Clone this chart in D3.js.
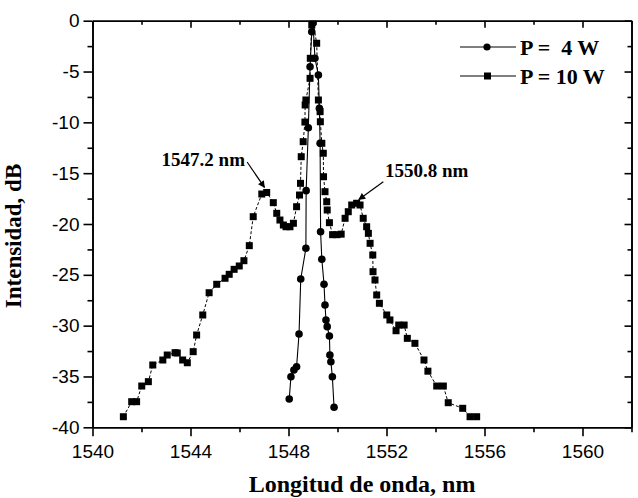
<!DOCTYPE html>
<html>
<head>
<meta charset="utf-8">
<script src="https://cdnjs.cloudflare.com/ajax/libs/d3/7.8.5/d3.min.js"></script>
<style>
  body { margin: 0; background: #fff; }
  .tick text { font-family: "Liberation Sans", Arial, sans-serif; font-size: 19px; fill: #000; }
  .domain, .tick line { stroke: #000; stroke-width: 1.6; }
</style>
</head>
<body>
<div id="chart"></div>
<script>
// wavelength (nm) / intensity (dB)
var wl10 = [1541.26, 1541.60, 1541.80, 1542.01, 1542.28, 1542.46, 1542.87, 1543.05, 1543.37, 1543.46,
            1543.68, 1543.87, 1544.11, 1544.25, 1544.50, 1544.76, 1545.07, 1545.41, 1545.58, 1545.78,
            1545.99, 1546.18, 1546.40, 1546.56, 1546.91, 1547.11, 1547.38, 1547.52, 1547.65, 1547.79,
            1547.90, 1548.06, 1548.20, 1548.33, 1548.45, 1548.49, 1548.52, 1548.60, 1548.67, 1548.68,
            1548.71, 1548.88, 1548.89, 1548.95, 1549.00, 1549.15, 1549.22, 1549.29, 1549.30, 1549.36,
            1549.42, 1549.43, 1549.49, 1549.56, 1549.58, 1549.67, 1549.80, 1549.98, 1550.15, 1550.31,
            1550.44, 1550.58, 1550.78, 1550.92, 1551.05, 1551.19, 1551.26, 1551.33, 1551.44, 1551.45,
            1551.53, 1551.60, 1551.71, 1552.01, 1552.14, 1552.39, 1552.50, 1552.72, 1552.85, 1553.16,
            1553.53, 1553.69, 1554.05, 1554.32, 1554.52, 1555.11, 1555.41, 1555.68];
var db10 = [-38.96, -37.48, -37.48, -35.94, -35.51, -33.87, -33.38, -32.89, -32.66, -32.69,
            -33.38, -33.65, -32.56, -30.92, -28.95, -26.76, -25.93, -25.34, -24.95, -24.46,
            -24.13, -23.61, -22.13, -19.28, -17.05, -16.90, -17.90, -18.95, -19.61, -20.10,
            -20.27, -20.27, -19.93, -18.30, -17.15, -16.00, -13.38, -11.90, -9.97, -8.29,
            -7.80, -5.67, -3.70, -0.42, -0.10, -2.22, -7.80, -8.95, -9.94, -12.06,
            -13.04, -15.35, -16.82, -17.81, -18.62, -19.87, -21.05, -21.05, -21.0, -19.44,
            -18.79, -18.13, -17.96, -18.13, -19.44, -20.27, -20.92, -21.90, -23.05, -24.69,
            -25.51, -26.98, -27.80, -28.95, -29.44, -30.50, -29.94, -29.94, -31.25, -31.74,
            -33.38, -34.48, -35.94, -35.94, -37.58, -38.13, -38.96, -38.96];

var wl4 = [1548.03, 1548.10, 1548.22, 1548.33, 1548.43, 1548.50, 1548.71, 1548.72, 1548.81, 1548.88,
           1548.95, 1549.00, 1549.08, 1549.22, 1549.26, 1549.29, 1549.31, 1549.36, 1549.45, 1549.49,
           1549.53, 1549.58, 1549.67, 1549.69, 1549.73, 1549.79, 1549.86];
var db4 = [-37.22, -35.02, -34.36, -34.04, -30.82, -25.41, -22.39, -16.72, -10.53, -4.53,
           -1.08, -0.23, -3.70, -5.34, -8.62, -12.06, -20.76, -23.47, -25.93, -27.97,
           -29.44, -30.10, -31.02, -32.89, -33.55, -35.02, -38.03];

var xMajor = [1540, 1544, 1548, 1552, 1556, 1560];
var xMinor = [1542, 1546, 1550, 1554, 1558, 1562];
var yMajor = [0, -5, -10, -15, -20, -25, -30, -35, -40];
var yMinor = [-2.5, -7.5, -12.5, -17.5, -22.5, -27.5, -32.5, -37.5];

var seriesNames = ["P =  4 W", "P = 10 W"];
// annotations: label position and arrow start/end in data units
var notes = [
  { text: "1547.2 nm", tx: 1542.82, ty: -14.3, x1: 1546.31, y1: -13.9, x2: 1547.02, y2: -16.4 },
  { text: "1550.8 nm", tx: 1551.94, ty: -15.33, x1: 1551.87, y1: -15.84, x2: 1550.87, y2: -17.6 }
];

var margin = { top: 20.7, right: 6.5, bottom: 70.7, left: 92.5 },
    width = 638 - margin.left - margin.right,
    height = 498 - margin.top - margin.bottom;

var svg = d3.select("#chart")
    .append("svg")
    .attr("width", 638)
    .attr("height", 498)
    .append("g")
    .attr("transform", "translate(" + margin.left + "," + margin.top + ")");

var defs = svg.append("defs");
defs.append("clipPath").attr("id", "clip")
    .append("rect").attr("width", width).attr("height", height);
defs.append("marker").attr("id", "arrow")
    .attr("viewBox", "0 0 10 10").attr("refX", 9).attr("refY", 5)
    .attr("markerWidth", 9).attr("markerHeight", 7).attr("markerUnits", "userSpaceOnUse")
    .attr("orient", "auto")
    .append("path").attr("d", "M0,0L10,5L0,10z").attr("fill", "#000");

var x = d3.scaleLinear().domain([1540, 1562]).range([0, width]);
var y = d3.scaleLinear().domain([-40, 0]).range([height, 0]);
var fmt = function (d) { return String(d); };

// bottom + left: ticks outside, top + right: ticks inside
svg.append("g").attr("transform", "translate(0," + height + ")")
    .call(d3.axisBottom(x).tickValues(xMajor).tickFormat(fmt).tickSizeInner(9).tickSizeOuter(0).tickPadding(8));
svg.append("g").attr("transform", "translate(0," + height + ")")
    .call(d3.axisBottom(x).tickValues(xMinor).tickFormat("").tickSizeInner(5).tickSizeOuter(0));
svg.append("g")
    .call(d3.axisLeft(y).tickValues(yMajor).tickFormat(fmt).tickSizeInner(9).tickSizeOuter(0).tickPadding(4));
svg.append("g")
    .call(d3.axisLeft(y).tickValues(yMinor).tickFormat("").tickSizeInner(5).tickSizeOuter(0));
svg.append("g")
    .call(d3.axisTop(x).tickValues(xMajor).tickFormat("").tickSizeInner(-7).tickSizeOuter(0));
svg.append("g")
    .call(d3.axisTop(x).tickValues(xMinor).tickFormat("").tickSizeInner(-4).tickSizeOuter(0));
svg.append("g").attr("transform", "translate(" + width + ",0)")
    .call(d3.axisRight(y).tickValues(yMajor).tickFormat("").tickSizeInner(-7).tickSizeOuter(0));
svg.append("g").attr("transform", "translate(" + width + ",0)")
    .call(d3.axisRight(y).tickValues(yMinor).tickFormat("").tickSizeInner(-4).tickSizeOuter(0));

var plot = svg.append("g").attr("clip-path", "url(#clip)");

var pts10 = wl10.map(function (d, i) { return [d, db10[i]]; });
var pts4 = wl4.map(function (d, i) { return [d, db4[i]]; });
var line = d3.line().x(function (d) { return x(d[0]); }).y(function (d) { return y(d[1]); });

plot.append("path").datum(pts10).attr("d", line)
    .attr("fill", "none").attr("stroke", "#000").attr("stroke-width", 1).attr("stroke-dasharray", "3,2");
plot.append("path").datum(pts4).attr("d", line)
    .attr("fill", "none").attr("stroke", "#000").attr("stroke-width", 1.1);

var sq = 7;
plot.selectAll("rect.sq").data(pts10).enter().append("rect")
    .attr("class", "sq")
    .attr("x", function (d) { return x(d[0]) - sq / 2; })
    .attr("y", function (d) { return y(d[1]) - sq / 2; })
    .attr("width", sq).attr("height", sq)
    .attr("fill", "#000");
plot.selectAll("circle.ci").data(pts4).enter().append("circle")
    .attr("class", "ci")
    .attr("cx", function (d) { return x(d[0]); })
    .attr("cy", function (d) { return y(d[1]); })
    .attr("r", 3.8)
    .attr("fill", "#000");

// annotations
notes.forEach(function (n) {
  svg.append("line")
      .attr("x1", x(n.x1)).attr("y1", y(n.y1))
      .attr("x2", x(n.x2)).attr("y2", y(n.y2))
      .attr("stroke", "#000").attr("stroke-width", 1.2)
      .attr("marker-end", "url(#arrow)");
  svg.append("text")
      .attr("x", x(n.tx)).attr("y", y(n.ty))
      .style("font-family", "'Liberation Serif', 'Times New Roman', serif")
      .style("font-weight", "bold").style("font-size", "19px")
      .text(n.text);
});

// legend
var leg = svg.append("g").attr("transform", "translate(" + (460 - margin.left) + "," + (47 - margin.top) + ")");
seriesNames.forEach(function (name, i) {
  var g = leg.append("g").attr("transform", "translate(0," + (i * 29) + ")");
  g.append("line").attr("x1", 0).attr("x2", 56).attr("y1", 0).attr("y2", 0)
      .attr("stroke", "#000").attr("stroke-width", 1);
  if (i === 0) {
    g.append("circle").attr("cx", 27).attr("cy", 0).attr("r", 3.6).attr("fill", "#000");
  } else {
    g.append("rect").attr("x", 24).attr("y", -3.5).attr("width", 7).attr("height", 7).attr("fill", "#000");
  }
  g.append("text").attr("x", 60).attr("y", 0).attr("dy", "0.35em")
      .style("font-family", "'Liberation Serif', 'Times New Roman', serif")
      .style("font-weight", "bold").style("font-size", "22px")
      .style("white-space", "pre").attr("xml:space", "preserve")
      .text(name);
});

// axis titles
svg.append("text")
    .attr("x", width / 2).attr("y", height + 65)
    .attr("text-anchor", "middle")
    .style("font-family", "'Liberation Serif', 'Times New Roman', serif")
    .style("font-weight", "bold").style("font-size", "24px")
    .text("Longitud de onda, nm");
svg.append("text")
    .attr("transform", "translate(" + (-72) + "," + (height / 2 + 12) + ") rotate(-90)")
    .attr("text-anchor", "middle")
    .style("font-family", "'Liberation Serif', 'Times New Roman', serif")
    .style("font-weight", "bold").style("font-size", "23px")
    .text("Intensidad, dB");
</script>
</body>
</html>
